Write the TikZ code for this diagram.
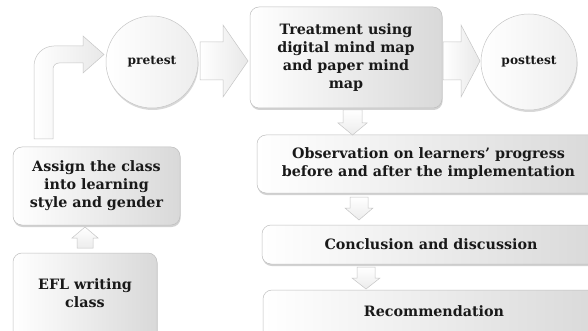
\documentclass[tikz,border=0pt]{standalone}
\usepackage{fontspec}
\setmainfont{DejaVu Serif}
\usetikzlibrary{shadows}
\tikzset{
  txt/.style={font=\bfseries\fontsize{14.3}{18}\selectfont, align=center, text=black!90},
  stagebox/.style={txt, draw=gray!50, line width=0.5pt, rounded corners=9pt, inner sep=0pt,
    left color=white, right color=gray!30,
    drop shadow={shadow xshift=0.6pt, shadow yshift=-2pt, opacity=0.35, fill=gray}},
  testcircle/.style={txt, font=\bfseries\fontsize{12.2}{15}\selectfont, circle, draw=gray!45, line width=0.5pt, inner sep=0pt,
    left color=white, right color=gray!14,
    drop shadow={shadow xshift=0.6pt, shadow yshift=-2pt, opacity=0.3, fill=gray}},
  blockarrow/.style={draw=gray!45, line width=0.5pt, left color=white, right color=gray!18},
  downarrow/.style={draw=gray!45, line width=0.5pt, top color=white, bottom color=gray!15},
}
\begin{document}
\begin{tikzpicture}[x=1pt,y=-1pt]
\useasboundingbox (0,0) rectangle (588,331);
\clip (0,0) rectangle (588,331);
\fill[white] (0,0) rectangle (588,331);

% boxes
\node[stagebox, minimum width=192pt, minimum height=101pt] (treat) at (346,57.5)
  {Treatment using\\digital mind map\\and paper mind\\map};
\node[stagebox, minimum width=343pt, minimum height=58pt] (obs) at (428.5,164)
  {Observation on learners’ progress\\before and after the implementation};
\node[stagebox, minimum width=338pt, minimum height=39pt] (concl) at (431,244.5)
  {Conclusion and discussion};
\node[stagebox, minimum width=342pt, minimum height=56pt, text depth=0pt] (rec) at (434,318) {};
\node[txt] (rectext) at (rec.center |- 0,311) {Recommendation};
\node[stagebox, minimum width=167pt, minimum height=78pt] (assign) at (96.5,186)
  {Assign the class\\into learning\\style and gender};
\node[stagebox, minimum width=144pt, minimum height=92pt] (efl) at (85,299) {};
\node[txt] (efltext) at (85,293) {EFL writing\\class};

% circles
\node[testcircle, minimum size=92pt] (pre) at (152,62) {pretest};
\node[testcircle, minimum size=96pt] (post) at (529,62) {posttest};

% bent arrow from assign box to pretest
\path[blockarrow] (34,139) -- (34,66) arc[start angle=180, end angle=270, radius=20] -- (83,46)
  -- (83,36) -- (104,54.5) -- (83,73) -- (83,63) -- (59,63)
  arc[start angle=270, end angle=180, radius=6] -- (53,139) -- cycle;

% horizontal arrows
\path[blockarrow] (200,42) -- (223,42) -- (223,25) -- (248,61) -- (223,97) -- (223,80) -- (200,80) -- cycle;
\path[blockarrow] (443,42) -- (461,42) -- (461,25) -- (480,61) -- (461,97) -- (461,80) -- (443,80) -- cycle;

% down arrows
\path[downarrow] (343,110) -- (362,110) -- (362,123) -- (367,123) -- (352.5,135) -- (338,123) -- (343,123) -- cycle;
\path[downarrow] (350,197) -- (368,197) -- (368,208) -- (373,208) -- (359,220) -- (345,208) -- (350,208) -- cycle;
\path[downarrow] (357,267) -- (375,267) -- (375,278) -- (380,278) -- (366,289) -- (352,278) -- (357,278) -- cycle;

% up arrow
\path[downarrow] (77,248) -- (93,248) -- (93,238) -- (98,238) -- (85,227) -- (72,238) -- (77,238) -- cycle;
\end{tikzpicture}
\end{document}
